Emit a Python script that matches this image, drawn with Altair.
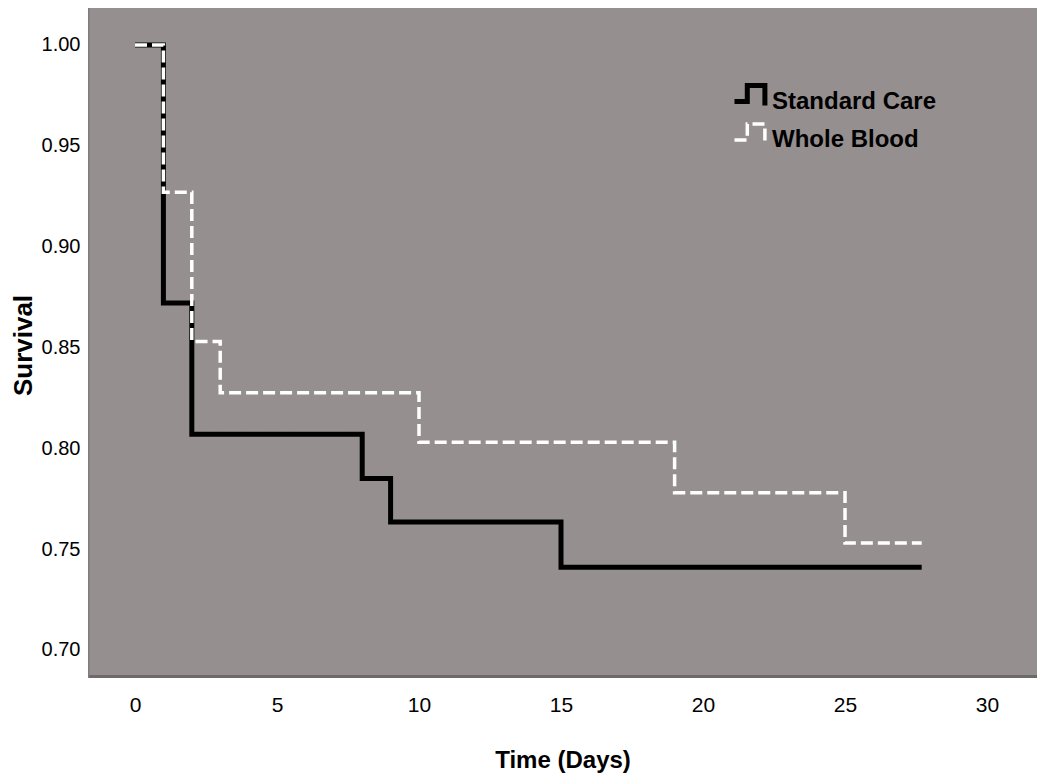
import altair as alt
import pandas as pd

# ---- data ----
groups = ["Standard Care", "Whole Blood"]
sc_time = [0, 1, 2, 8, 9, 15, 27.7]
sc_surv = [1.0, 0.872, 0.807, 0.785, 0.7635, 0.741, 0.741]
wb_time = [0, 1, 2, 3, 10, 19, 25, 27.7]
wb_surv = [1.0, 0.927, 0.853, 0.8275, 0.803, 0.778, 0.753, 0.753]
x_ticks = [0, 5, 10, 15, 20, 25, 30]
y_ticks = [0.70, 0.75, 0.80, 0.85, 0.90, 0.95, 1.00]

rows = []
for g, ts, ss in [(groups[0], sc_time, sc_surv), (groups[1], wb_time, wb_surv)]:
    for t, s in zip(ts, ss):
        rows.append({"Group": g, "Time": t, "Survival": s})
df = pd.DataFrame(rows)

FONT = "Liberation Sans"
W, H = 949, 670

sym = "M -1 0 L -0.2 0 L -0.2 -1 L 0.9 -1 L 0.9 0.25"
leg = alt.Legend(
    title=None, orient="none", legendX=644, legendY=75,
    symbolType=sym, symbolSize=1024, symbolFillColor="transparent",
    labelFont=FONT, labelFontSize=24, labelFontWeight="bold", labelColor="black",
    labelOffset=3, labelLimit=400, rowPadding=1, padding=0,
)

lines = alt.Chart(df).mark_line(
    interpolate="step-after", strokeJoin="miter", strokeCap="butt"
).encode(
    x=alt.X(
        "Time:Q",
        scale=alt.Scale(domain=[-1.655, 31.76], nice=False, zero=False),
        axis=alt.Axis(
            values=x_ticks, title="Time (Days)", grid=False, ticks=False, tickSize=0,
            domain=False, labelFont=FONT, labelFontSize=21, labelColor="black",
            labelBaseline="middle", labelPadding=27,
            titleFont=FONT, titleFontSize=24, titleFontWeight="bold", titleColor="black",
            titleBaseline="alphabetic", titleY=89,
        ),
    ),
    y=alt.Y(
        "Survival:Q",
        scale=alt.Scale(domain=[0.6861, 1.0183], nice=False, zero=False),
        axis=alt.Axis(
            values=y_ticks, format=".2f", title="Survival", grid=False, ticks=False,
            tickSize=0, domain=False, labelFont=FONT, labelFontSize=20,
            labelColor="black", labelBaseline="middle", labelPadding=8,
            titleFont=FONT, titleFontSize=26, titleFontWeight="bold", titleColor="black",
            titleAngle=270, titleX=-65, titleY=337, titleBaseline="middle",
            titleAlign="center",
        ),
    ),
    color=alt.Color("Group:N", scale=alt.Scale(domain=groups, range=["#000000", "#ffffff"]), legend=leg),
    strokeDash=alt.StrokeDash("Group:N", scale=alt.Scale(domain=groups, range=[[1, 0], [12, 5]]), legend=leg),
    strokeWidth=alt.StrokeWidth("Group:N", scale=alt.Scale(domain=groups, range=[5, 3.5]), legend=leg),
)

one = pd.DataFrame({"k": [0]})
bottom_rule = alt.Chart(one).mark_rule(color="#6f6a6a", strokeWidth=3).encode(
    x=alt.value(0), x2=alt.value(W), y=alt.value(H - 1.5)
)
left_rule = alt.Chart(one).mark_rule(color="#817c7c", strokeWidth=1.5).encode(
    x=alt.value(0.75), y=alt.value(0), y2=alt.value(H)
)

chart = alt.layer(bottom_rule, left_rule, lines).properties(
    width=W, height=H,
    autosize=alt.AutoSizeParams(type="none"),
    padding={"left": 80, "top": 0, "right": 5, "bottom": 96},
    background="white",
).configure_view(fill="#968f8f", strokeWidth=0)

chart.save("out.html", embed_options={"renderer": "svg", "actions": False})
